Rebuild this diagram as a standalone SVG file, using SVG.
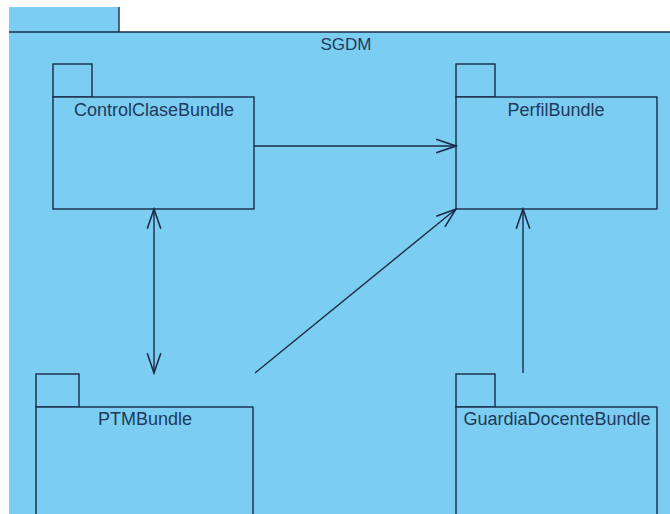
<svg xmlns="http://www.w3.org/2000/svg" width="670" height="514" viewBox="0 0 670 514">
<style>
.pkg{fill:#7bcdf2;stroke:#1b2a48;stroke-width:1.4}
.lbl{font-family:"Liberation Sans",Arial,sans-serif;font-size:18px;fill:#1f3a5a;text-anchor:middle}
.conn{fill:none;stroke:#1b2a48;stroke-width:1.4}
</style>
<defs>
<marker id="open" markerUnits="userSpaceOnUse" markerWidth="24" markerHeight="18" viewBox="-21 -8 23 16" refX="0" refY="0" orient="auto-start-reverse">
<path d="M-19,-6.5 L0,0 L-19,6.5" fill="none" stroke="#1b2a48" stroke-width="1.5"/>
</marker>
</defs>
<rect width="670" height="514" fill="#ffffff"/>
<g id="SGDM">
<rect x="9" y="7" width="110" height="26" fill="#7bcdf2"/>
<rect x="9" y="32" width="662" height="483" fill="#7bcdf2"/>
<line x1="119" y1="7" x2="119" y2="32" stroke="#1b2a48" stroke-width="1.4"/>
<line x1="9" y1="32" x2="670" y2="32" stroke="#1b2a48" stroke-width="1.4"/>
<text class="lbl" x="346" y="50" style="font-size:17px">SGDM</text>
</g>
<g id="ControlClaseBundle">
<rect class="pkg" x="53" y="64" width="39" height="33"/>
<rect class="pkg" x="53" y="97" width="201" height="112"/>
<text class="lbl" x="154" y="116">ControlClaseBundle</text>
</g>
<g id="PerfilBundle">
<rect class="pkg" x="456" y="64" width="39" height="33"/>
<rect class="pkg" x="456" y="97" width="201" height="112"/>
<text class="lbl" x="556" y="116">PerfilBundle</text>
</g>
<g id="PTMBundle">
<rect class="pkg" x="36" y="374" width="43" height="33"/>
<rect class="pkg" x="36" y="407" width="217" height="120"/>
<text class="lbl" x="145" y="425">PTMBundle</text>
</g>
<g id="GuardiaDocenteBundle">
<rect class="pkg" x="456" y="374" width="39" height="33"/>
<rect class="pkg" x="456" y="407" width="201" height="120"/>
<text class="lbl" x="557" y="425">GuardiaDocenteBundle</text>
</g>
<g id="connectors">
<line class="conn" x1="254" y1="146" x2="456" y2="146" marker-end="url(#open)"/>
<line class="conn" x1="154" y1="209" x2="154" y2="373" marker-start="url(#open)" marker-end="url(#open)"/>
<line class="conn" x1="255" y1="373" x2="456" y2="209" marker-end="url(#open)"/>
<line class="conn" x1="523" y1="373" x2="523" y2="209" marker-end="url(#open)"/>
</g>
</svg>
